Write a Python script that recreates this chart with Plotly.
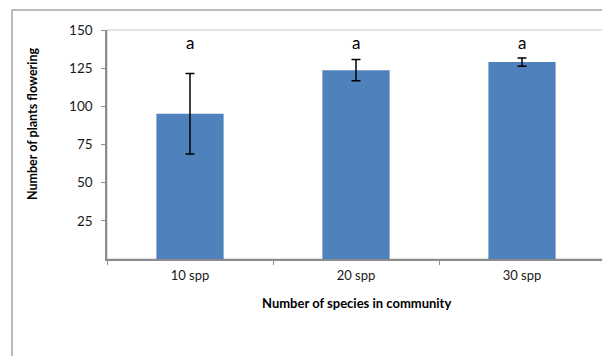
import plotly.graph_objects as go

categories = ["10 spp", "20 spp", "30 spp"]
mean_flowering = [95.1, 123.7, 129.0]
error_flowering = [26.4, 7.0, 2.7]
group_letters = ["a", "a", "a"]
y_ticks = [25, 50, 75, 100, 125, 150]

FONT = "Lato, Calibri, Carlito, sans-serif"
TXT = "#000000"

OFF = 8  # browser body margin
W, H = 610 - OFF, 356 - OFF
L, R, T, B = 107 - OFF, 5, 30 - OFF, 105 - OFF
pw, ph = W - L - R, H - T - B

def px_x(x):
    return (x - OFF - L) / pw

def px_y(y):
    return (H - B - (y - OFF)) / ph

fig = go.Figure()
fig.add_trace(go.Bar(
    x=categories, y=mean_flowering,
    marker=dict(color="#4F81BD", line=dict(width=0)),
    width=0.405,
    error_y=dict(type="data", array=error_flowering, visible=True,
                 color="#000000", thickness=1.5, width=4.5),
    showlegend=False, hoverinfo="x+y",
))

annotations = []
for c, lt in zip(categories, group_letters):
    annotations.append(dict(x=c, y=142, xref="x", yref="y", text=lt, showarrow=False,
                            font=dict(family=FONT, size=17, color=TXT),
                            xanchor="center", yanchor="middle"))
annotations.append(dict(x=px_x(33), y=px_y(124), xref="paper", yref="paper",
                        text="<b>Number of plants flowering</b>", textangle=-90,
                        showarrow=False, font=dict(family=FONT, size=12.5, color=TXT),
                        xanchor="center", yanchor="middle"))
annotations.append(dict(x=0.5, y=px_y(303), xref="paper", yref="paper",
                        text="<b>Number of species in community</b>",
                        showarrow=False, font=dict(family=FONT, size=13, color=TXT),
                        xanchor="center", yanchor="middle"))

shapes = [
    # outer chart frame
    dict(type="rect", xref="paper", yref="paper",
         x0=px_x(12), x1=px_x(640), y0=px_y(10), y1=px_y(390),
         line=dict(color="#a6a6a6", width=1.5), layer="below"),
    # plot area border
    dict(type="rect", xref="paper", yref="paper", x0=0, x1=1, y0=0, y1=1,
         line=dict(color="#c8c8c8", width=1.2), layer="below"),
]

fig.update_layout(
    width=W, height=H,
    margin=dict(l=L, r=R, t=T, b=B),
    paper_bgcolor="white", plot_bgcolor="white",
    bargap=0.595,
    annotations=annotations, shapes=shapes,
    font=dict(family=FONT, color=TXT),
)
fig.update_xaxes(
    type="category", showgrid=False, showline=True, linecolor="#8c8c8c", linewidth=1.5,
    ticks="outside", tickson="boundaries", ticklen=4, tickcolor="#8c8c8c", tickwidth=1,
    tickfont=dict(family=FONT, size=13, color="#1a1a1a"), ticklabelstandoff=4,
    zeroline=False,
)
fig.update_yaxes(
    range=[0, 150], tickvals=y_ticks, showgrid=False, showline=True,
    linecolor="#8c8c8c", linewidth=1.5, ticks="outside", ticklen=4,
    tickcolor="#8c8c8c", tickwidth=1, tickfont=dict(family=FONT, size=13.5, color="#1a1a1a"),
    ticklabelstandoff=6, zeroline=False,
)

fig.write_html("out.html")
